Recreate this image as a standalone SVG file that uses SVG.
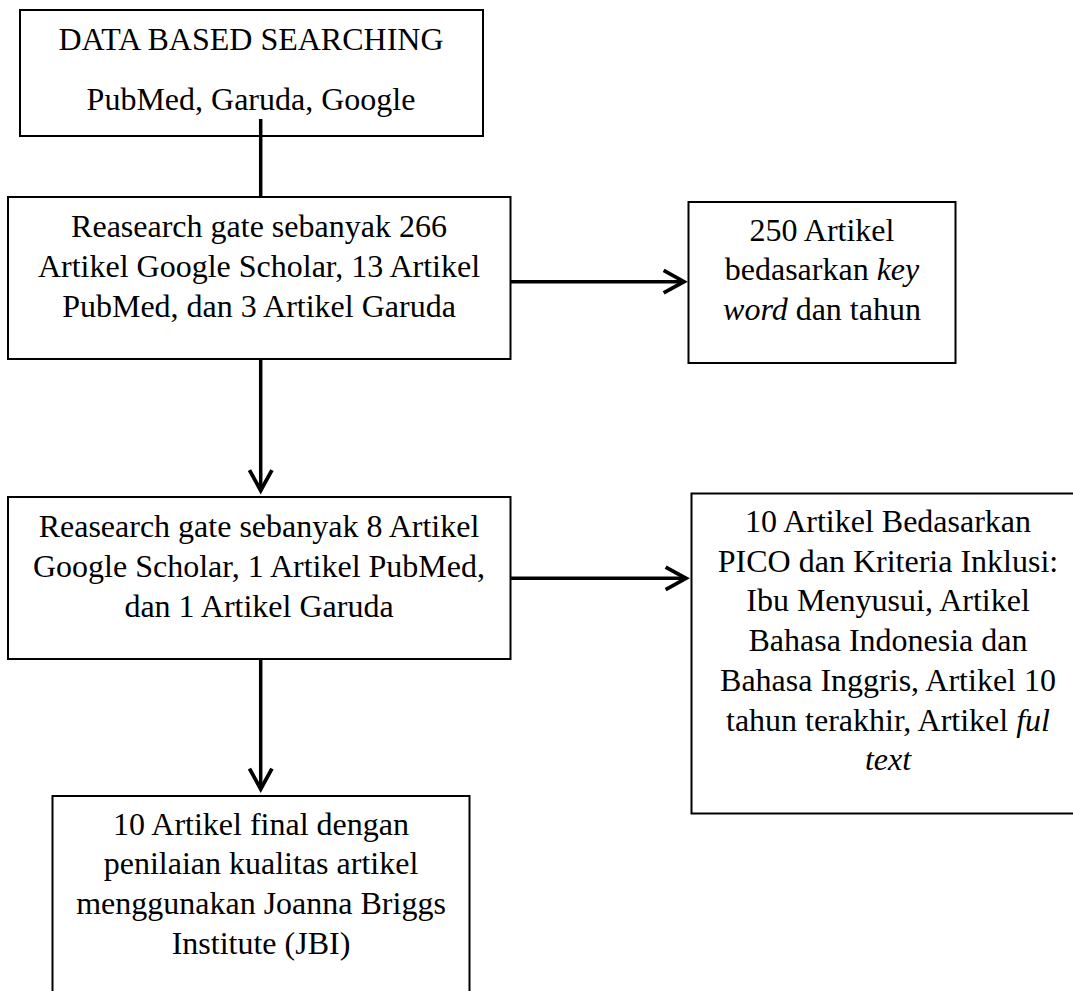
<svg xmlns="http://www.w3.org/2000/svg" width="1073" height="991" viewBox="0 0 1073 991">
<style>
.box{fill:#fff;stroke:#000;stroke-width:2}
.t{font-family:"Liberation Serif","Times New Roman",serif;font-size:32px;fill:#000;text-anchor:middle}
.i{font-style:italic}
.c{fill:none;stroke:#000;stroke-width:3.5}
</style>
<defs>
<marker id="ah" markerUnits="userSpaceOnUse" markerWidth="30" markerHeight="30" viewBox="-24 -14 28 28" refX="0" refY="0" orient="auto">
<path d="M-19,-10.5 L0,0 L-19,10.5" fill="none" stroke="#000" stroke-width="3.5" stroke-linejoin="miter"/>
</marker>
</defs>
<g id="n1">
<rect class="box" x="20" y="10" width="463" height="126"/>
<text class="t" x="251" y="50">DATA BASED SEARCHING</text>
<text class="t" x="251" y="110">PubMed, Garuda, Google</text>
</g>
<g id="n2">
<rect class="box" x="8" y="197" width="502.5" height="162"/>
<text class="t" x="259" y="236.7">Reasearch gate sebanyak 266</text>
<text class="t" x="259" y="276.7">Artikel Google Scholar, 13 Artikel</text>
<text class="t" x="259" y="316.5">PubMed, dan 3 Artikel Garuda</text>
</g>
<g id="n3">
<rect class="box" x="688.5" y="202" width="267" height="161"/>
<text class="t" x="822" y="240.7">250 Artikel</text>
<text class="t" x="822" y="280">bedasarkan <tspan class="i">key</tspan></text>
<text class="t" x="822" y="319.5"><tspan class="i">word</tspan> dan tahun</text>
</g>
<g id="n4">
<rect class="box" x="8" y="497" width="502.5" height="162"/>
<text class="t" x="259" y="536.7">Reasearch gate sebanyak 8 Artikel</text>
<text class="t" x="259" y="576.7">Google Scholar, 1 Artikel PubMed,</text>
<text class="t" x="259" y="616.7">dan 1 Artikel Garuda</text>
</g>
<g id="n5">
<rect class="box" x="691.5" y="493.5" width="400" height="320"/>
<text class="t" x="888" y="532">10 Artikel Bedasarkan</text>
<text class="t" x="888" y="571.7">PICO dan Kriteria Inklusi:</text>
<text class="t" x="888" y="611.4">Ibu Menyusui, Artikel</text>
<text class="t" x="888" y="651.1">Bahasa Indonesia dan</text>
<text class="t" x="888" y="690.8">Bahasa Inggris, Artikel 10</text>
<text class="t" x="888" y="730.5">tahun terakhir, Artikel <tspan class="i">ful</tspan></text>
<text class="t i" x="888" y="770.2">text</text>
</g>
<g id="n6">
<rect class="box" x="52.5" y="796" width="417" height="210"/>
<text class="t" x="261" y="834.5">10 Artikel final dengan</text>
<text class="t" x="261" y="874">penilaian kualitas artikel</text>
<text class="t" x="261" y="913.5">menggunakan Joanna Briggs</text>
<text class="t" x="261" y="953.5">Institute (JBI)</text>
</g>
<g id="connectors">
<line class="c" x1="260.7" y1="119" x2="260.7" y2="197"/>
<line class="c" x1="510.5" y1="281.7" x2="684" y2="281.7" marker-end="url(#ah)"/>
<line class="c" x1="260.7" y1="359" x2="260.7" y2="490.5" marker-end="url(#ah)"/>
<line class="c" x1="510.5" y1="578.3" x2="686" y2="578.3" marker-end="url(#ah)"/>
<line class="c" x1="260.7" y1="659" x2="260.7" y2="789" marker-end="url(#ah)"/>
</g>
</svg>
